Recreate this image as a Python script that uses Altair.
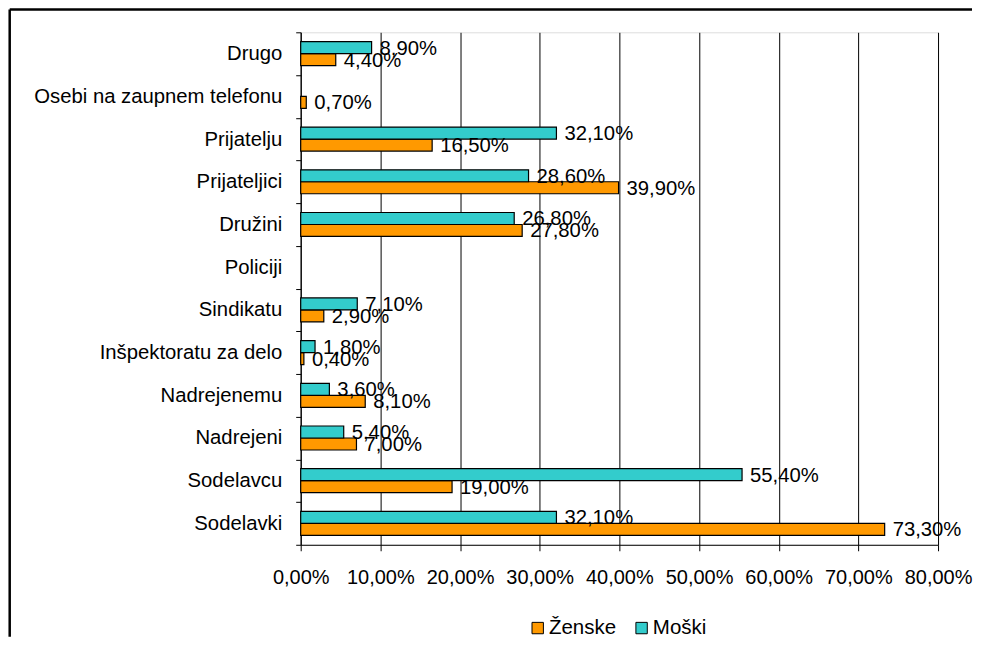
import altair as alt
import pandas as pd

categories = ["Drugo", "Osebi na zaupnem telefonu", "Prijatelju", "Prijateljici", "Družini",
              "Policiji", "Sindikatu", "Inšpektoratu za delo", "Nadrejenemu", "Nadrejeni",
              "Sodelavcu", "Sodelavki"]
zenske = [4.4, 0.7, 16.5, 39.9, 27.8, None, 2.9, 0.4, 8.1, 7.0, 19.0, 73.3]
moski = [8.9, None, 32.1, 28.6, 26.8, None, 7.1, 1.8, 3.6, 5.4, 55.4, 32.1]
series = ["Ženske", "Moški"]
colors = ["#FF9900", "#33CCCC"]
x_ticks = [0, 10, 20, 30, 40, 50, 60, 70, 80]

rows = []
for c, z, m in zip(categories, zenske, moski):
    if z is not None:
        rows.append({"cat": c, "spol": "Ženske", "v": z})
    if m is not None:
        rows.append({"cat": c, "spol": "Moški", "v": m})
df = pd.DataFrame(rows)

FONT = "Liberation Sans"

y_enc = alt.Y("cat:N", sort=categories,
              scale=alt.Scale(domain=categories, paddingInner=0, paddingOuter=0),
              axis=alt.Axis(title=None, tickBand="extent", tickSize=5, tickColor="black",
                            domainColor="black", labelColor="black", labelFontSize=20.3,
                            labelFont=FONT, labelPadding=14, grid=False, labelLimit=400))
yoff_enc = alt.YOffset("spol:N", sort=["Moški", "Ženske"],
                       scale=alt.Scale(domain=["Moški", "Ženske"], paddingInner=0, paddingOuter=0.78))
x_enc = alt.X("v:Q", scale=alt.Scale(domain=[0, 80], nice=False),
              axis=alt.Axis(title=None, values=x_ticks, tickSize=6, tickColor="black",
                            domainColor="black", gridColor="black", gridOpacity=1, grid=True,
                            labelExpr="replace(format(datum.value, '.2f'), '.', ',') + '%'",
                            labelFontSize=20, labelFont=FONT, labelColor="black",
                            labelPadding=17, labelFlush=False, labelOverlap=False))
color_enc = alt.Color("spol:N", scale=alt.Scale(domain=series, range=colors),
                      legend=alt.Legend(title=None, orient="none", legendX=227, legendY=586,
                                        direction="horizontal", symbolType="square",
                                        symbolSize=130, symbolStrokeColor="black",
                                        symbolStrokeWidth=1, labelFontSize=20.5, labelFont=FONT,
                                        labelColor="black", labelOffset=1, columnPadding=15,
                                        padding=0))

base = alt.Chart(df)
bars = base.mark_bar(stroke="black", strokeWidth=1.2).encode(
    x=x_enc, y=y_enc, yOffset=yoff_enc, color=color_enc)
labels = base.transform_calculate(
    lab="replace(format(datum.v, '.2f'), '.', ',') + '%'"
).mark_text(align="left", baseline="middle", dx=8, dy=1, fontSize=20.3, font=FONT, color="black").encode(
    x="v:Q", y=alt.Y("cat:N", sort=categories), yOffset=alt.YOffset("spol:N", sort=["Moški", "Ženske"]),
    text="lab:N")

frame_df = pd.DataFrame({"f": [0]})
top_line = alt.Chart(frame_df).mark_rule(color="black", strokeWidth=2.5).encode(
    x=alt.value(-291.3), x2=alt.value(672), y=alt.value(-22.75))
left_line = alt.Chart(frame_df).mark_rule(color="black", strokeWidth=2.5).encode(
    x=alt.value(-291.3), y=alt.value(-22.75), y2=alt.value(605))

chart = alt.layer(bars, labels, top_line, left_line).properties(
    width=638, height=513,
    padding={"top": 0, "left": 0, "right": 0, "bottom": 0}
).configure_view(stroke=None).configure(font=FONT)

chart.save("out.html", embed_options={"renderer": "svg", "actions": False})
